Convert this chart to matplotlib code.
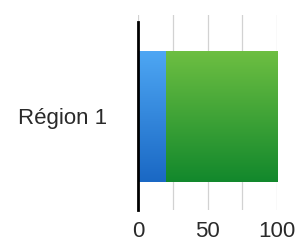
import numpy as np
import matplotlib
matplotlib.use('Agg')
from matplotlib import pyplot as plt
from matplotlib.colors import LinearSegmentedColormap

plt.rcParams['font.family'] = ['Liberation Sans', 'DejaVu Sans']

categories = ['Région 1']
serie_a = [20]
serie_b = [80]
ticks = [0, 25, 50, 75, 100]
tick_labels = ['0', '', '50', '', '100']

fig = plt.figure(figsize=(3.0, 2.44), dpi=100)
ax = fig.add_axes([138/300, 34/244, 139/300, 195/244])

y = [0.48]
bars_a = ax.barh(y, serie_a, height=0.672, color='none', edgecolor='none')
bars_b = ax.barh(y, serie_b, left=serie_a, height=0.672, color='none', edgecolor='none')

# degradados verticales dentro de cada barra
grad_a = LinearSegmentedColormap.from_list('a', ['#1a68c4', '#4ea7f4'])
grad_b = LinearSegmentedColormap.from_list('b', ['#12882c', '#6ebf42'])
g = np.linspace(0, 1, 256).reshape(-1, 1)
for bars, cmap in [(bars_a, grad_a), (bars_b, grad_b)]:
    for p in bars:
        x0, y0 = p.get_x(), p.get_y()
        im = ax.imshow(g, cmap=cmap, aspect='auto', origin='lower',
                       extent=[x0, x0 + p.get_width(), y0, y0 + p.get_height()],
                       zorder=2)
        im.set_clip_path(p)

ax.set_xlim(0, 100)
ax.set_ylim(0, 1)
ax.set_xticks(ticks)
ax.set_xticklabels(tick_labels)
ax.set_yticks(y)
ax.set_yticklabels(categories)
ax.tick_params(length=0, labelsize=16, colors='#2a2a2a')
ax.tick_params(axis='x', pad=8)
ax.tick_params(axis='y', pad=22)
ax.grid(True, axis='x', color='#d2d2d2', linewidth=0.9)
ax.set_axisbelow(True)
for s in ['top', 'right', 'bottom']:
    ax.spines[s].set_visible(False)
ax.spines['left'].set_linewidth(2)
ax.spines['left'].set_color('black')
ax.spines['left'].set_bounds(0, 0.964)
ax.spines['left'].set_zorder(3)

plt.savefig('out.png', dpi=100)
